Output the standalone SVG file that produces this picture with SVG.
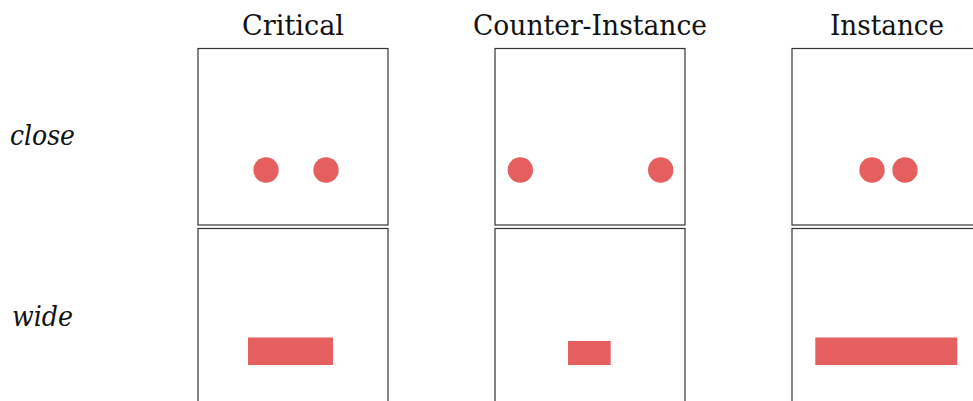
<svg xmlns="http://www.w3.org/2000/svg" width="973" height="401" viewBox="0 0 973 401">
<style>
.box{fill:#fff;stroke:#333;stroke-width:1.2}
.dot{fill:#e65f5f}
.title{font-family:'DejaVu Serif','Liberation Serif',serif;font-size:27px;fill:#111;text-anchor:middle}
.row{font-family:'DejaVu Serif','Liberation Serif',serif;font-size:27px;font-style:italic;fill:#111}
</style>
<rect width="973" height="401" fill="#fff"/>
<text class="title" x="293" y="35" textLength="102" lengthAdjust="spacingAndGlyphs">Critical</text>
<text class="title" x="590" y="35" textLength="234" lengthAdjust="spacingAndGlyphs">Counter-Instance</text>
<text class="title" x="887" y="35" textLength="114" lengthAdjust="spacingAndGlyphs">Instance</text>
<text class="row" x="10" y="145" textLength="65" lengthAdjust="spacingAndGlyphs">close</text>
<text class="row" x="12" y="326" textLength="61" lengthAdjust="spacingAndGlyphs">wide</text>
<g id="critical-close"><rect class="box" x="198" y="48.5" width="190" height="176.5"/><circle class="dot" cx="266" cy="170" r="12.7"/><circle class="dot" cx="326" cy="170" r="12.7"/></g>
<g id="counter-close"><rect class="box" x="495" y="48.5" width="190" height="176.5"/><circle class="dot" cx="520.3" cy="170" r="12.7"/><circle class="dot" cx="660.7" cy="170" r="12.7"/></g>
<g id="instance-close"><rect class="box" x="792" y="48.5" width="190" height="176.5"/><circle class="dot" cx="872" cy="170" r="12.7"/><circle class="dot" cx="905" cy="170" r="12.7"/></g>
<g id="critical-wide"><rect class="box" x="198" y="228.5" width="190" height="190"/><rect class="dot" x="248" y="337.5" width="85" height="27.5"/></g>
<g id="counter-wide"><rect class="box" x="495" y="228.5" width="190" height="190"/><rect class="dot" x="568" y="341" width="42.7" height="24"/></g>
<g id="instance-wide"><rect class="box" x="792" y="228.5" width="190" height="190"/><rect class="dot" x="815.3" y="337.5" width="142" height="27.5"/></g>
<g id="connectors"/>
</svg>
